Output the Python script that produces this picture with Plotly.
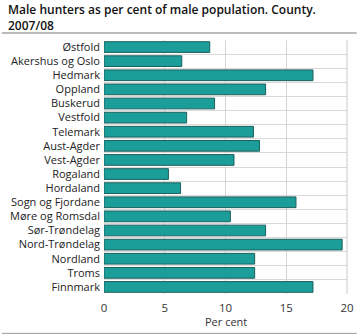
import plotly.graph_objects as go

counties = ["Østfold", "Akershus og Oslo", "Hedmark", "Oppland", "Buskerud", "Vestfold",
            "Telemark", "Aust-Agder", "Vest-Agder", "Rogaland", "Hordaland",
            "Sogn og Fjordane", "Møre og Romsdal", "Sør-Trøndelag", "Nord-Trøndelag",
            "Nordland", "Troms", "Finnmark"]
per_cent = [8.7, 6.4, 17.2, 13.3, 9.1, 6.8, 12.3, 12.8, 10.7, 5.3, 6.3,
            15.8, 10.4, 13.3, 19.6, 12.4, 12.4, 17.2]
x_ticks = [0, 5, 10, 15, 20]

n = len(counties)
pos = list(range(n))

fig = go.Figure(go.Bar(
    x=per_cent, y=pos, orientation="h", width=0.76,
    marker=dict(color="#1b9e9a", line=dict(color="#1d5f5c", width=1)),
    hoverinfo="x+text", text=counties, textposition="none",
))

FONT = "Open Sans"
fig.update_layout(
    width=362, height=335,
    margin=dict(l=104, r=8, t=40, b=41),
    paper_bgcolor="white", plot_bgcolor="white",
    font=dict(family=FONT, size=11, color="#222"),
    showlegend=False,
    xaxis=dict(range=[0, 20], tickvals=x_ticks, showgrid=True, gridcolor="#d4d4d4",
               gridwidth=1, zeroline=False, showline=False, ticks="",
               ticklabelstandoff=5,
               tickfont=dict(size=11.5, color="#333")),
    yaxis=dict(range=[n - 0.5, -0.5], tickvals=pos, ticktext=counties, showgrid=False,
               zeroline=False, showline=False, ticks="", ticklabelstandoff=3,
               tickfont=dict(size=11, color="#222"),
               minor=dict(tickvals=[i + 0.5 for i in range(-1, n)], showgrid=True,
                          gridcolor="#d9d9d9", gridwidth=1)),
    annotations=[
        dict(text="Male hunters as per cent of male population. County.<br>2007/08",
             xref="paper", yref="paper", x=-0.405, y=1.162, xanchor="left", yanchor="top",
             align="left", showarrow=False,
             font=dict(family=FONT, size=12, weight=600, color="#111")),
        dict(text="Per cent", xref="paper", yref="paper", x=0.5, y=-0.11,
             xanchor="center", yanchor="middle", showarrow=False,
             font=dict(family=FONT, size=11, color="#333")),
    ],
    shapes=[
        dict(type="line", xref="paper", yref="paper", x0=-0.42, x1=1.04, y0=1.028, y1=1.028,
             line=dict(color="#bbbbbb", width=2)),
        dict(type="line", xref="paper", yref="paper", x0=-0.42, x1=1.04, y0=-0.155, y1=-0.155,
             line=dict(color="#999999", width=1)),
        dict(type="line", xref="paper", yref="paper", x0=1, x1=1, y0=0, y1=1,
             line=dict(color="#cccccc", width=1)),
    ],
)

fig.write_html("out.html")
